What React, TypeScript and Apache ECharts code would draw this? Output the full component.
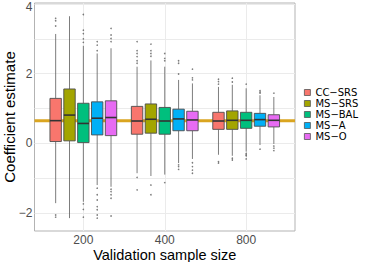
import { useEffect, useRef } from 'react';
import * as echarts from 'echarts';

// ---- data ----
const sampleSizes = ['200', '400', '800'];
const methods = ['CC-SRS', 'MS-SRS', 'MS-BAL', 'MS-A', 'MS-O'];
const refValue = 0.65;

// [lower whisker, Q1, median, Q3, upper whisker] for sizes 200, 400, 800
const ccSrsBoxes = [
  [-1.72, 0.05, 0.65, 1.29, 3.14],
  [-0.86, 0.26, 0.64, 1.06, 2.2],
  [-0.33, 0.4, 0.64, 0.89, 1.62],
];
const msSrsBoxes = [
  [-2.15, 0.07, 0.81, 1.56, 3.65],
  [-0.94, 0.29, 0.69, 1.13, 2.38],
  [-0.36, 0.4, 0.66, 0.93, 1.68],
];
const msBalBoxes = [
  [-1.68, 0.02, 0.57, 1.15, 2.8],
  [-0.9, 0.26, 0.64, 1.03, 2.2],
  [-0.24, 0.43, 0.66, 0.89, 1.58],
];
const msABoxes = [
  [-1.2, 0.24, 0.72, 1.19, 2.58],
  [-0.57, 0.36, 0.7, 0.98, 1.82],
  [-0.05, 0.49, 0.68, 0.86, 1.38],
];
const msOBoxes = [
  [-1.25, 0.22, 0.74, 1.22, 2.73],
  [-0.45, 0.36, 0.67, 0.92, 1.72],
  [-0.02, 0.47, 0.66, 0.82, 1.33],
];

// outliers for sizes 200, 400, 800
const ccSrsOutliers = [
  [3.59, 3.52, 3.37, -2.06, -2.12],
  [2.92, 2.66, 2.58, 2.49, 2.37, 2.3, -0.98, -1.34],
  [1.84, 1.77, 1.7, -0.53, -0.57],
];
const msSrsOutliers = [
  [],
  [2.85, 2.66, 2.58, 2.5, -1.2, -1.48],
  [1.87, 1.76, -0.43, -0.48],
];
const msBalOutliers = [
  [3.7, 3.25, 3.15, 3.0, 2.9, -1.74, -1.9, -2.12],
  [2.58, 2.44, 2.37, -1.13],
  [1.7, -0.29, -0.33, -0.36, -0.45],
];
const msAOutliers = [
  [2.92, 2.82, 2.66, -1.29, -1.48, -1.63, -1.82, -1.91, -2.06, -2.15],
  [2.37, 2.3, 1.99, -0.62, -0.67, -0.75],
  [1.51, 1.47, 1.44, -0.17],
];
const msOOutliers = [
  [3.3, 3.11, 3.01, 2.92, -1.32, -1.39, -1.48, -1.58, -2.09],
  [2.13, 1.88, 1.82, -0.56, -0.67, -0.77, -0.86],
  [1.44, -0.08, -0.14, -0.21],
];

const yTickLabels = [-2, 0, 2, 4];
const yGridValues = [-2, -1, 0, 1, 2, 3, 4];
const xTickValues = [1, 2, 3];

const methodBoxes = [ccSrsBoxes, msSrsBoxes, msBalBoxes, msABoxes, msOBoxes];
const methodOutliers = [ccSrsOutliers, msSrsOutliers, msBalOutliers, msAOutliers, msOOutliers];
const colors = ['#F8766D', '#A3A500', '#00BF7D', '#00B0F6', '#E76BF3'];

const FONT = '"Liberation Sans", Arial, Helvetica, sans-serif';

export default function App() {
  const ref = useRef<HTMLDivElement>(null);
  useEffect(() => {
    const chart = echarts.init(ref.current!, undefined, { renderer: 'svg' });
    const dodge = 0.17;
    const boxW = 0.14;
    const series: any[] = [];
    series.push({
      type: 'line',
      name: 'reference',
      data: [[0.4, refValue], [3.6, refValue]],
      symbol: 'none',
      lineStyle: { color: '#DAA520', width: 3 },
      z: 1,
      silent: true,
    });
    methods.forEach((m, mi) => {
      const off = (mi - 2) * dodge;
      const color = colors[mi];
      series.push({
        type: 'custom',
        name: m,
        z: 3,
        itemStyle: { color, borderColor: '#555', borderWidth: 0.8 },
        encode: { x: 0, y: [1, 2, 3, 4, 5] },
        data: methodBoxes[mi].map((b, i) => [i + 1, ...b]),
        renderItem: (_params: any, api: any) => {
          const x = api.value(0) + off;
          const pLow = api.coord([x, api.value(1)]);
          const pQ1 = api.coord([x, api.value(2)]);
          const pMed = api.coord([x, api.value(3)]);
          const pQ3 = api.coord([x, api.value(4)]);
          const pHigh = api.coord([x, api.value(5)]);
          const w = api.size([boxW, 0])[0];
          const cx = pMed[0];
          return {
            type: 'group',
            children: [
              { type: 'line', shape: { x1: cx, y1: pHigh[1], x2: cx, y2: pQ3[1] }, style: { stroke: '#5c5c5c', lineWidth: 0.8 } },
              { type: 'line', shape: { x1: cx, y1: pQ1[1], x2: cx, y2: pLow[1] }, style: { stroke: '#5c5c5c', lineWidth: 0.8 } },
              { type: 'rect', shape: { x: cx - w / 2, y: pQ3[1], width: w, height: pQ1[1] - pQ3[1] }, style: { fill: color, stroke: '#4d4d4d', lineWidth: 0.9 } },
              { type: 'line', shape: { x1: cx - w / 2, y1: pMed[1], x2: cx + w / 2, y2: pMed[1] }, style: { stroke: '#333', lineWidth: 1.6 } },
            ],
          };
        },
      });
      series.push({
        type: 'scatter',
        name: m + ' outliers',
        z: 2,
        symbol: 'circle',
        symbolSize: 1.6,
        itemStyle: { color: '#5a5a5a' },
        silent: true,
        data: methodOutliers[mi].flatMap((arr, i) => arr.map((v) => [i + 1 + off, v])),
      });
    });

    chart.setOption({
      animation: false,
      backgroundColor: '#fff',
      grid: {
        left: 34.5, right: 79, top: 3, bottom: 31,
        show: true, borderColor: '#B3B3B3', borderWidth: 1, backgroundColor: '#fff',
        containLabel: false,
        outerBoundsMode: 'none',
      },
      legend: {
        data: methods,
        orient: 'vertical',
        left: 304,
        top: 87,
        padding: 0,
        itemGap: 0,
        itemWidth: 6,
        itemHeight: 6,
        icon: 'rect',
        formatter: (name: string) => name.replace('-', '\u2212'),
        itemStyle: { borderColor: '#555', borderWidth: 0.8 },
        textStyle: { fontSize: 10, lineHeight: 11, color: '#000', fontFamily: '"DejaVu Sans", sans-serif' },
      },
      xAxis: {
        type: 'value',
        min: 0.4,
        max: 3.6,
        name: 'Validation sample size',
        nameLocation: 'middle',
        nameGap: 16,
        nameMoveOverlap: false,
        nameTextStyle: { fontSize: 14.5, lineHeight: 15, color: '#000', fontFamily: FONT },
        axisLine: { show: false },
        axisTick: { show: false, customValues: xTickValues },
        axisLabel: {
          customValues: xTickValues,
          formatter: (v: number) => sampleSizes[Math.round(v) - 1] ?? '',
          fontSize: 12, lineHeight: 12, color: '#4D4D4D', margin: 3, fontFamily: FONT,
        },
        splitLine: { show: true, lineStyle: { color: '#EBEBEB', width: 1 } },
      },
      yAxis: {
        type: 'value',
        min: -2.52,
        max: 4.03,
        name: 'Coefficient estimate',
        nameLocation: 'middle',
        nameGap: 18,
        nameMoveOverlap: false,
        nameTextStyle: { fontSize: 15, color: '#000', fontFamily: FONT },
        axisLine: { show: false },
        axisTick: { show: false, customValues: yGridValues },
        axisLabel: {
          customValues: yTickLabels,
          formatter: (v: number) => (v < 0 ? '\u2212' + Math.abs(v) : String(v)),
          fontSize: 12, lineHeight: 5, color: '#4D4D4D', margin: 2, fontFamily: FONT,
          verticalAlignMaxLabel: 'top',
        },
        splitLine: { show: true, lineStyle: { color: '#EBEBEB', width: 1 } },
      },
      series,
    });
    return () => chart.dispose();
  }, []);
  return <div ref={ref} style={{ position: 'fixed', left: 0, top: 0, width: 374, height: 262 }} />;
}
